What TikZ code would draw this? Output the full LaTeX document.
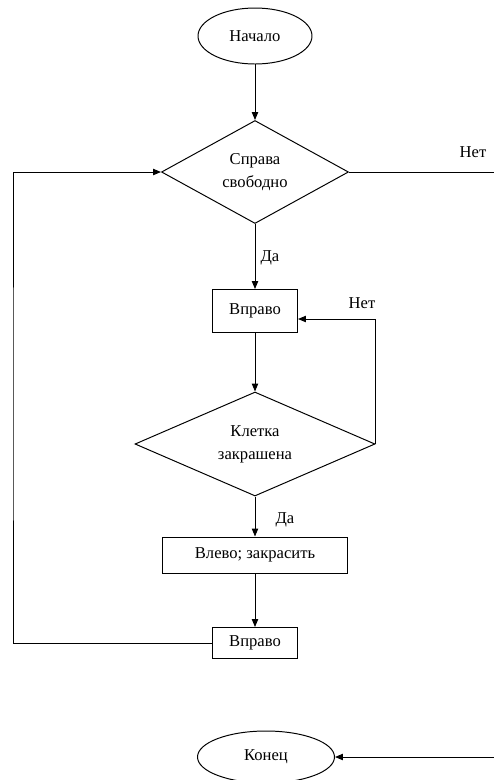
\documentclass[tikz,border=0pt]{standalone}
\usepackage{fontspec}
\setmainfont{Liberation Serif}
\usetikzlibrary{shapes.geometric,arrows.meta}

\begin{document}
\begin{tikzpicture}[line width=0.7pt,
    font=\fontsize{11.8}{16.5}\selectfont,
    term/.style={draw,ellipse,inner sep=0pt},
    cond/.style={draw,diamond,inner sep=0pt,align=center,shape aspect=2},
    act/.style={draw,rectangle,inner sep=0pt},
    arr/.style={-{Triangle[length=2mm,width=1.6mm]}}]
    \useasboundingbox (0,0) rectangle (12.35,-19.5);

    \node (1) at (6.375,-0.9) [term,minimum width=2.85cm,minimum height=1.4cm]{Начало};
    \node (2) at (6.375,-4.3) [cond,minimum width=4.675cm,minimum height=2.575cm]{Справа\\свободно};
    \node (3) at (6.375,-7.775) [act,minimum width=2.125cm,minimum height=1.075cm]{Вправо};
    \node (4) at (6.375,-11.1) [cond,shape aspect=2.3,minimum width=6cm,minimum height=2.6cm]{Клетка\\закрашена};
    \node (5) at (6.375,-13.875) [act,minimum width=4.625cm,minimum height=0.9cm]{Влево; закрасить};
    \node (6) at (6.375,-16.075) [act,minimum width=2.125cm,minimum height=0.775cm]{Вправо};
    \node (7) at (6.65,-18.925) [term,minimum width=3.425cm,minimum height=1.3cm]{Конец};

    \node (no1) at (11.825,-3.8) {Нет};
    \node (yes1) at (6.75,-6.45) {Да};
    \node (no2) at (9.05,-7.575) {Нет};
    \node (yes2) at (7.125,-13.0) {Да};

    \coordinate (loop) at (0.325,-10);
    \coordinate (out1) at (12.35,-4.3);
    \coordinate (out2) at (12.35,-18.925);

    \draw[arr] (1) -- (2);
    \draw[arr] (2) -- (3);
    \draw[arr] (3) -- (4);
    \draw[arr] (4) -- (5);
    \draw[arr] (5) -- (6);

    \draw[arr] (4.east) |- ([yshift=-0.2cm]3.east);
    \draw[arr] (6.west) -| (loop) |- (2.west);

    \draw (2.east) -- (out1);
    \draw[arr] (out2) -- (7.east);

  \end{tikzpicture}
\end{document}
